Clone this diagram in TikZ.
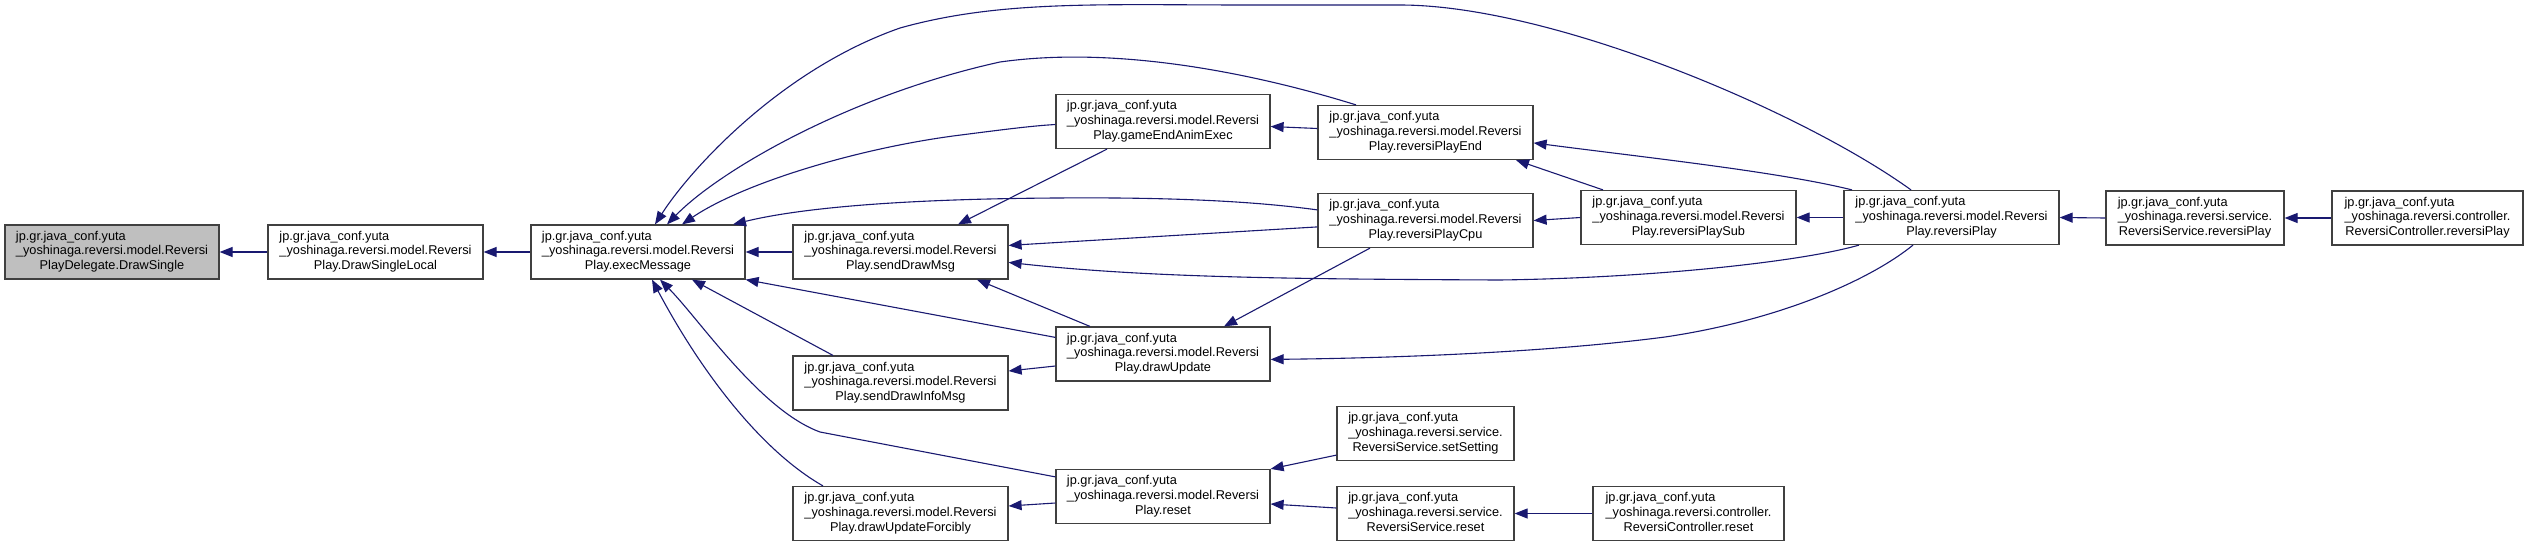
\documentclass[tikz,border=0pt]{standalone}
\usepackage{fontspec}
\setmainfont{Liberation Sans}
\usetikzlibrary{arrows.meta,calc}
\definecolor{edgecol}{HTML}{191970}
\definecolor{boxcol}{HTML}{404040}
\definecolor{hilite}{HTML}{BFBFBF}
\newcommand{\tlbl}[3]{\begin{tabular}{@{}l@{}}#1\\#2\\\multicolumn{1}{@{}c@{}}{#3}\end{tabular}}
\tikzset{
  fn/.style={draw=boxcol, line width=1.2pt, fill=white, rectangle, inner sep=0pt,
    minimum height=54pt, font=\fontsize{12.75}{14.6}\selectfont},
  cur/.style={fn, fill=hilite},
  edge/.style={draw=edgecol, line width=1.1pt, {Triangle[length=13pt,width=10pt]}-}
}
\begin{document}
\begin{tikzpicture}[x=1pt,y=-1pt]
\useasboundingbox (0,0) rectangle (2528,547);
% nodes
\node[cur, minimum width=214pt] (DrawSingle) at (112,252) {\tlbl{jp.gr.java\_conf.yuta}{\_yoshinaga.reversi.model.Reversi}{PlayDelegate.DrawSingle}};
\node[fn, minimum width=215pt] (DrawSingleLocal) at (375.5,252) {\tlbl{jp.gr.java\_conf.yuta}{\_yoshinaga.reversi.model.Reversi}{Play.DrawSingleLocal}};
\node[fn, minimum width=214pt] (execMessage) at (638,252) {\tlbl{jp.gr.java\_conf.yuta}{\_yoshinaga.reversi.model.Reversi}{Play.execMessage}};
\node[fn, minimum width=215pt] (sendDrawMsg) at (900.5,252) {\tlbl{jp.gr.java\_conf.yuta}{\_yoshinaga.reversi.model.Reversi}{Play.sendDrawMsg}};
\node[fn, minimum width=215pt] (sendDrawInfoMsg) at (900.5,383) {\tlbl{jp.gr.java\_conf.yuta}{\_yoshinaga.reversi.model.Reversi}{Play.sendDrawInfoMsg}};
\node[fn, minimum width=215pt] (drawUpdateForcibly) at (900.5,513.5) {\tlbl{jp.gr.java\_conf.yuta}{\_yoshinaga.reversi.model.Reversi}{Play.drawUpdateForcibly}};
\node[fn, minimum width=214pt] (gameEndAnimExec) at (1163,121.5) {\tlbl{jp.gr.java\_conf.yuta}{\_yoshinaga.reversi.model.Reversi}{Play.gameEndAnimExec}};
\node[fn, minimum width=214pt] (drawUpdate) at (1163,354) {\tlbl{jp.gr.java\_conf.yuta}{\_yoshinaga.reversi.model.Reversi}{Play.drawUpdate}};
\node[fn, minimum width=214pt] (reset) at (1163,496.5) {\tlbl{jp.gr.java\_conf.yuta}{\_yoshinaga.reversi.model.Reversi}{Play.reset}};
\node[fn, minimum width=215pt] (reversiPlayEnd) at (1425.5,132.5) {\tlbl{jp.gr.java\_conf.yuta}{\_yoshinaga.reversi.model.Reversi}{Play.reversiPlayEnd}};
\node[fn, minimum width=215pt] (reversiPlayCpu) at (1425.5,220.5) {\tlbl{jp.gr.java\_conf.yuta}{\_yoshinaga.reversi.model.Reversi}{Play.reversiPlayCpu}};
\node[fn, minimum width=177pt] (setSetting) at (1425.5,433.5) {\tlbl{jp.gr.java\_conf.yuta}{\_yoshinaga.reversi.service.}{ReversiService.setSetting}};
\node[fn, minimum width=177pt] (RSreset) at (1425.5,513.5) {\tlbl{jp.gr.java\_conf.yuta}{\_yoshinaga.reversi.service.}{ReversiService.reset}};
\node[fn, minimum width=215pt] (reversiPlaySub) at (1688.5,217.5) {\tlbl{jp.gr.java\_conf.yuta}{\_yoshinaga.reversi.model.Reversi}{Play.reversiPlaySub}};
\node[fn, minimum width=191pt] (RCreset) at (1688.5,513.5) {\tlbl{jp.gr.java\_conf.yuta}{\_yoshinaga.reversi.controller.}{ReversiController.reset}};
\node[fn, minimum width=215pt] (reversiPlay) at (1951.5,217.5) {\tlbl{jp.gr.java\_conf.yuta}{\_yoshinaga.reversi.model.Reversi}{Play.reversiPlay}};
\node[fn, minimum width=178pt] (RSreversiPlay) at (2195,218) {\tlbl{jp.gr.java\_conf.yuta}{\_yoshinaga.reversi.service.}{ReversiService.reversiPlay}};
\node[fn, minimum width=191pt] (RCreversiPlay) at (2427.5,218) {\tlbl{jp.gr.java\_conf.yuta}{\_yoshinaga.reversi.controller.}{ReversiController.reversiPlay}};
% edges
\draw[edge] (DrawSingle.east) -- (DrawSingleLocal.west);
\draw[edge] (DrawSingleLocal.east) -- (execMessage.west);
\draw[edge] (execMessage.east) -- (sendDrawMsg.west);
\draw[edge] (execMessage.north -| 655,0) .. controls (690,170) and (780,70) .. (900,28) .. controls (1000,0) and (1100,5) .. (1250,5) -- (1400,5) .. controls (1550,5) and (1800,110) .. (reversiPlay.north -| 1911,0);
\draw[edge] (execMessage.north -| 667,0) .. controls (720,170) and (850,95) .. (1000,62) .. controls (1120,45) and (1260,75) .. (reversiPlayEnd.north -| 1356,0);
\draw[edge] (execMessage.north -| 682,0) .. controls (740,185) and (850,150) .. (953,136) .. controls (1000,130) and (1030,126) .. ($(gameEndAnimExec.west)+(0,3)$);
\draw[edge] (execMessage.north -| 733,0) .. controls (800,208) and (900,199) .. (1056,198) .. controls (1180,197) and (1260,202) .. ($(reversiPlayCpu.north west)+(0,17)$);
\draw[edge] (execMessage.south east) -- ($(drawUpdate.north west)+(0,11)$);
\draw[edge] (execMessage.south -| 692,0) -- (sendDrawInfoMsg.north -| 833,0);
\draw[edge] (execMessage.south -| 660,0) .. controls (700,320) and (760,410) .. (820,432) -- ($(reset.north west)+(0,8)$);
\draw[edge] (execMessage.south -| 652,0) .. controls (700,370) and (760,450) .. (drawUpdateForcibly.north -| 823,0);
\draw[edge] (sendDrawMsg.north -| 958,0) -- (gameEndAnimExec.south -| 1107,0);
\draw[edge] ($(sendDrawMsg.north east)+(0,21)$) -- ($(reversiPlayCpu.north west)+(0,34)$);
\draw[edge] ($(sendDrawMsg.north east)+(0,38)$) .. controls (1150,278) and (1300,279) .. (1499,280) .. controls (1650,278) and (1800,262) .. (reversiPlay.south -| 1859,0);
\draw[edge] (sendDrawMsg.south -| 977,0) -- (drawUpdate.north -| 1090,0);
\draw[edge] ($(gameEndAnimExec.east)+(0,5)$) -- ($(reversiPlayEnd.west)+(0,-4)$);
\draw[edge] (reversiPlayEnd.south -| 1516,0) -- (reversiPlaySub.north -| 1603,0);
\draw[edge] ($(reversiPlayEnd.north east)+(0,38)$) .. controls (1650,158) and (1780,172) .. (reversiPlay.north -| 1852,0);
\draw[edge] (reversiPlayCpu.east) -- (reversiPlaySub.west);
\draw[edge] (drawUpdate.north -| 1224,0) -- (reversiPlayCpu.south -| 1370,0);
\draw[edge] ($(drawUpdate.north east)+(0,33)$) .. controls (1400,358) and (1550,352) .. (1665,337) .. controls (1780,320) and (1870,280) .. (reversiPlay.south -| 1913,0);
\draw[edge] ($(sendDrawInfoMsg.east)+(0,-12)$) -- ($(drawUpdate.west)+(0,12)$);
\draw[edge] ($(drawUpdateForcibly.east)+(0,-7.5)$) -- ($(reset.west)+(0,6.5)$);
\draw[edge] (reset.north east) -- ($(setSetting.south west)+(0,-6)$);
\draw[edge] ($(reset.east)+(0,7.5)$) -- ($(RSreset.west)+(0,-5.5)$);
\draw[edge] (RSreset.east) -- (RCreset.west);
\draw[edge] (reversiPlaySub.east) -- (reversiPlay.west);
\draw[edge] (reversiPlay.east) -- (RSreversiPlay.west);
\draw[edge] (RSreversiPlay.east) -- (RCreversiPlay.west);
\end{tikzpicture}
\end{document}
